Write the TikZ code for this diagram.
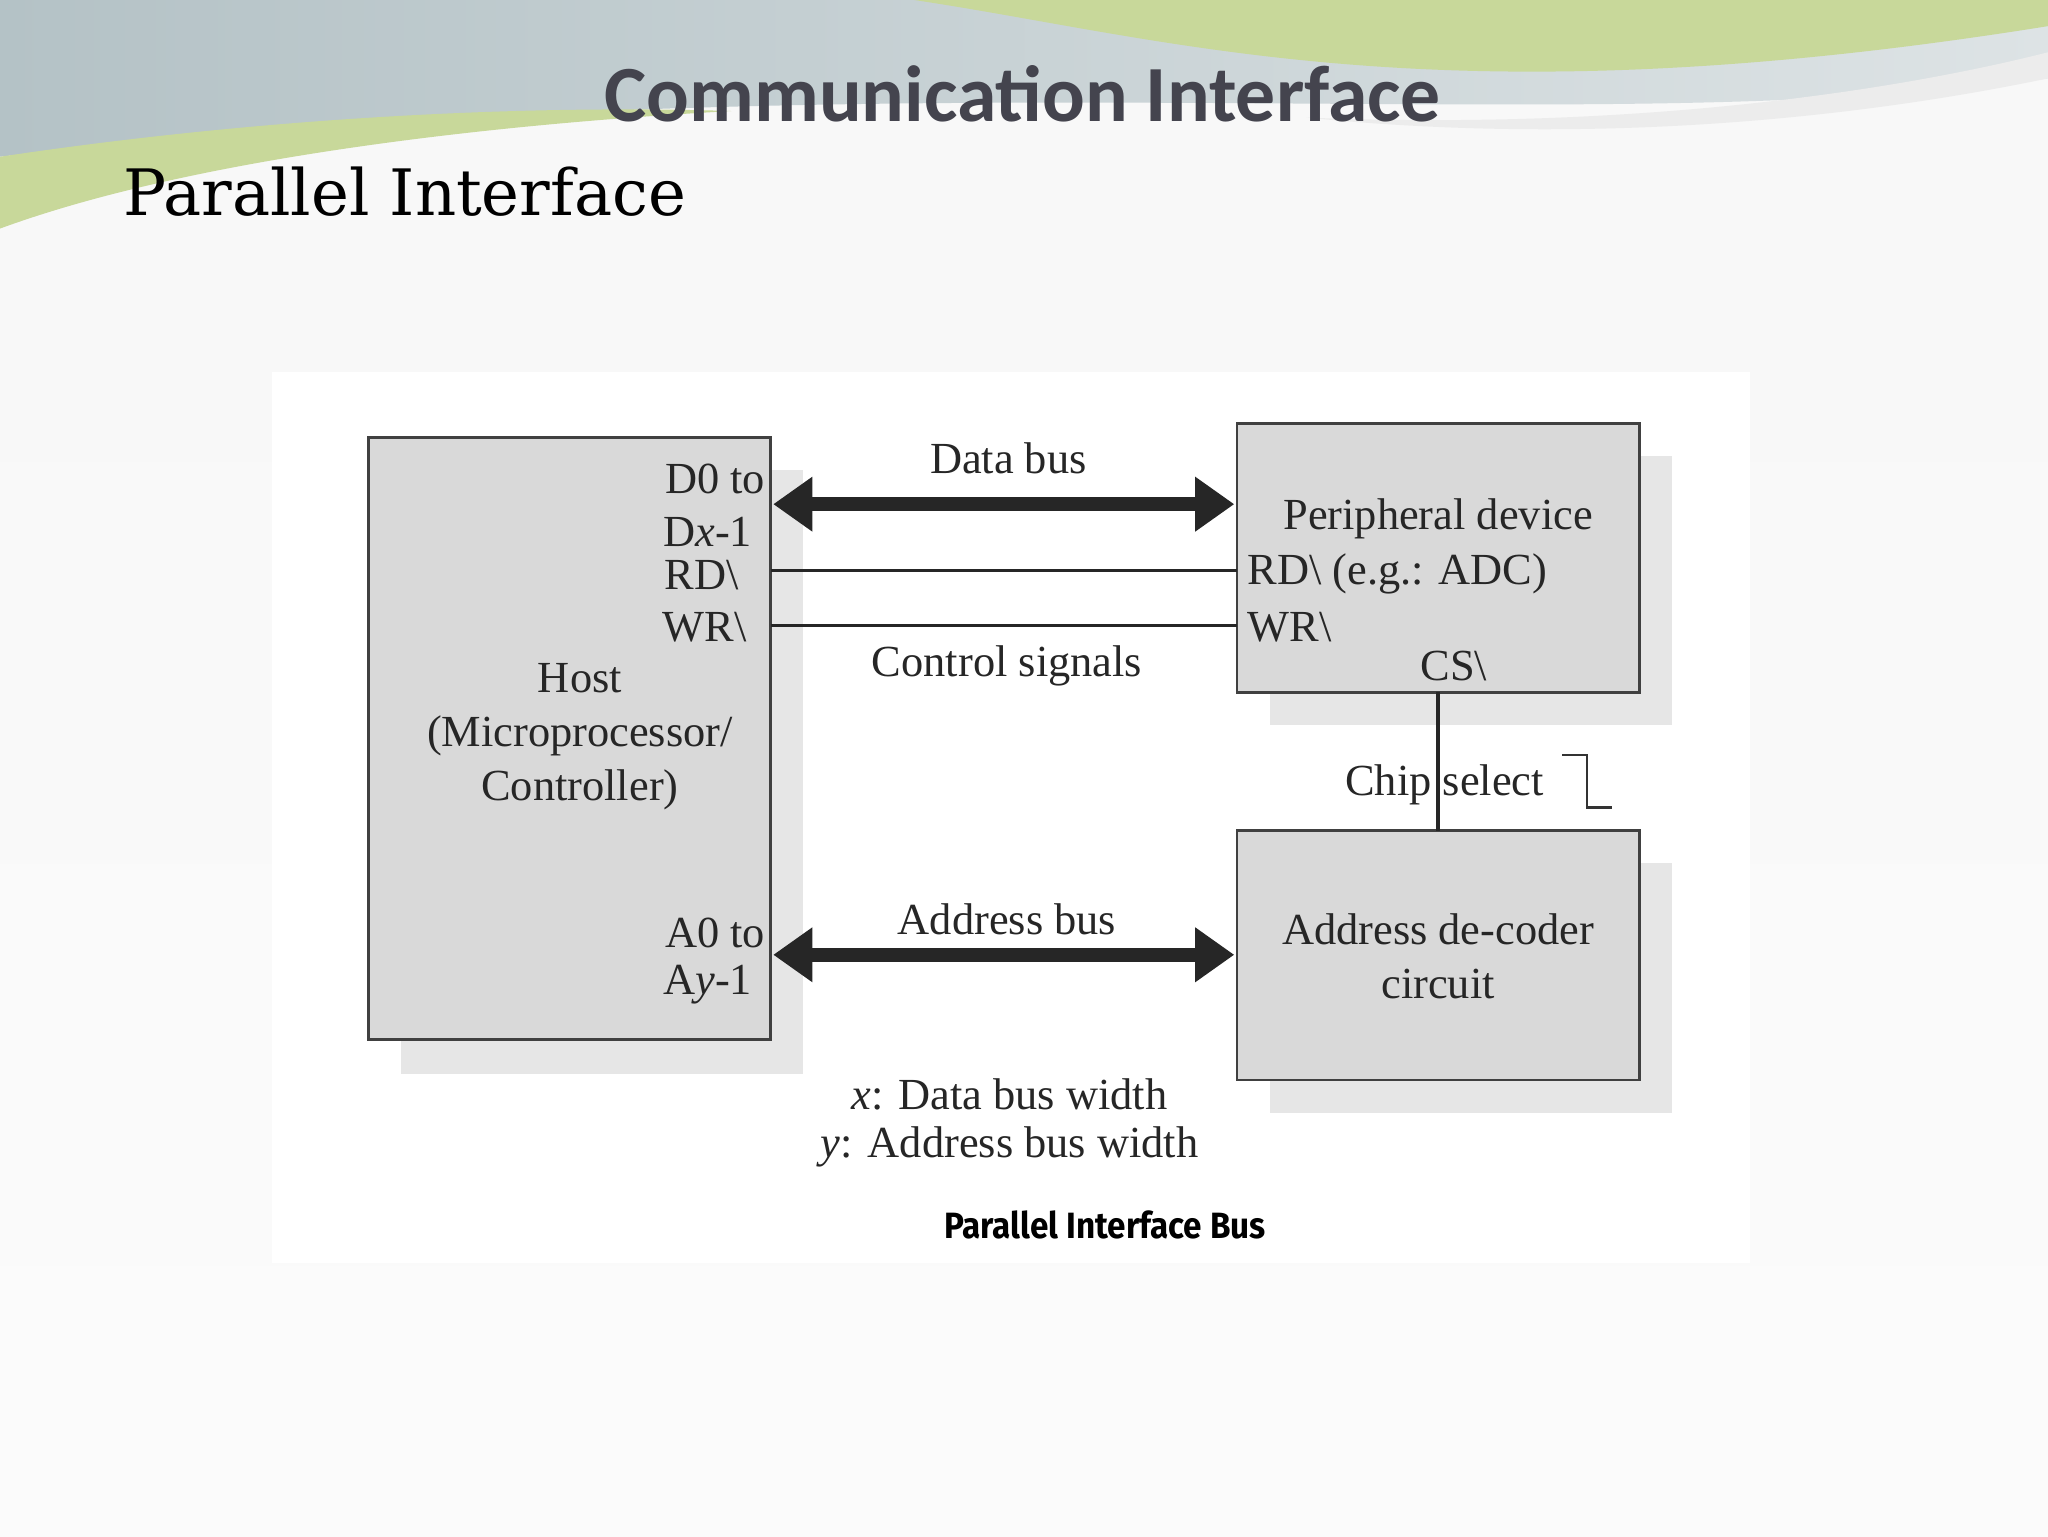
\documentclass[tikz,border=0pt]{standalone}
\usepackage{fontspec}
\setmainfont{Liberation Serif}
\newfontfamily\titlefont{Carlito}
\newfontfamily\headfont{DejaVu Serif}
\newfontfamily\capfont{Fira Sans}
\usetikzlibrary{arrows.meta}
\definecolor{boxgray}{HTML}{D9D9D9}
\definecolor{shadowgray}{HTML}{E6E6E6}
\definecolor{titlegray}{HTML}{44444E}
\definecolor{bandgray}{HTML}{B4C2C6}
\definecolor{bandlight}{HTML}{DDE3E5}
\definecolor{swgreen}{HTML}{C8D89A}
\tikzset{
  x=1pt,y=-1pt,
  blk/.style={draw=black!75,line width=2pt,fill=boxgray},
  shd/.style={fill=shadowgray,draw=none},
  lbl/.style={font=\fontsize{34}{41}\selectfont,text=black!85,inner sep=0pt},
  bus/.style={line width=11pt,{Triangle[length=30pt,width=40pt]}-{Triangle[length=30pt,width=40pt]},black!85,shorten <=2pt,shorten >=2pt},
  sig/.style={line width=2.5pt,black!85}
}
\begin{document}
\begin{tikzpicture}
\useasboundingbox (0,0) rectangle (1568,1176);
\shade[top color=white!94!gray,bottom color=white!97!gray] (0,0) rectangle (1568,1176);
% top decoration
\shade[left color=bandgray,right color=bandlight] (0,0) -- (1568,0) -- (1568,60) .. controls (1200,110) and (700,40) .. (0,120) -- cycle;
\fill[swgreen] (0,120) .. controls (200,90) and (400,80) .. (560,85) .. controls (380,95) and (150,120) .. (0,175) -- cycle;
\fill[swgreen] (700,0) .. controls (900,30) and (1100,95) .. (1568,20) -- (1568,0) -- cycle;
\fill[white!85!gray] (1000,90) .. controls (1250,100) and (1450,70) .. (1568,40) -- (1568,60) .. controls (1400,95) and (1200,110) .. (1000,90) -- cycle;
\node[font=\titlefont\bfseries\fontsize{61}{66}\selectfont,text=titlegray] (title) at (783,72) {Communication Interface};
\node[font=\headfont\fontsize{49}{56}\selectfont,anchor=west,inner sep=0pt] (head) at (94,147) {Parallel Interface};
% picture area
\fill[white] (208,285) rectangle (1340,967);
\fill[shd] (307,360) rectangle (615,822);
\fill[shd] (972,349) rectangle (1280,555);
\fill[shd] (972,661) rectangle (1280,852);
\draw[blk] (282,335) rectangle (590,796);
\draw[blk] (947,324) rectangle (1255,530);
\draw[blk] (947,636) rectangle (1255,827);
\coordinate (hd) at (590,386); \coordinate (pd) at (947,386);
\coordinate (hr) at (590,437); \coordinate (pr) at (947,437);
\coordinate (hw) at (590,479); \coordinate (pw) at (947,479);
\coordinate (ha) at (590,731); \coordinate (aa) at (947,731);
\coordinate (cs1) at (1101,530); \coordinate (cs2) at (1101,636);
\draw[bus] (hd) -- (pd);
\draw[bus] (ha) -- (aa);
\draw[sig] (hr) -- (pr);
\draw[sig] (hw) -- (pw);
\draw[sig] (cs1) -- (cs2);
\draw[line width=2pt,black!80] (1196,578) -- (1215,578) -- (1215,618) -- (1234,618);
% labels
\node[lbl,anchor=east] (d0) at (586,367) {D0 to};
\node[lbl,anchor=east] (dx) at (576,407) {D\textit{x}-1};
\node[lbl,anchor=east] (rd) at (566,440) {RD\textbackslash};
\node[lbl,anchor=east] (wr) at (572,480) {WR\textbackslash};
\node[lbl,align=center] (host) at (444,564) {Host\\(Microprocessor/\\Controller)};
\node[lbl,anchor=east] (a0) at (586,714) {A0 to};
\node[lbl,anchor=east] (ay) at (576,754) {A\textit{y}-1};
\node[lbl] (db) at (772,351) {Data bus};
\node[lbl] (cs) at (771,510) {Control signals};
\node[lbl] (ab) at (771,704) {Address bus};
\node[lbl] (pdv) at (1101,397) {Peripheral device};
\node[lbl,anchor=west] (prd) at (955,439) {RD\textbackslash{} (e.g.: ADC)};
\node[lbl,anchor=west] (pwr) at (955,480) {WR\textbackslash};
\node[lbl] (pcs) at (1113,510) {CS\textbackslash};
\node[lbl,fill=white,inner xsep=3pt] (chip) at (1106,601) {Chip select};
\draw[sig] (1101,585) -- (1101,618);
\node[lbl,align=center] (adc) at (1101,732) {Address de-coder\\circuit};
\node[lbl] (xw) at (773,838) {\textit{x}: Data bus width};
\node[lbl] (yw) at (773,878) {\textit{y}: Address bus width};
\node[font=\capfont\bfseries\fontsize{28}{30}\selectfont,inner sep=0pt] (capt) at (846,938) {\scalebox{0.91}[1]{Parallel Interface Bus}};
\end{tikzpicture}
\end{document}
